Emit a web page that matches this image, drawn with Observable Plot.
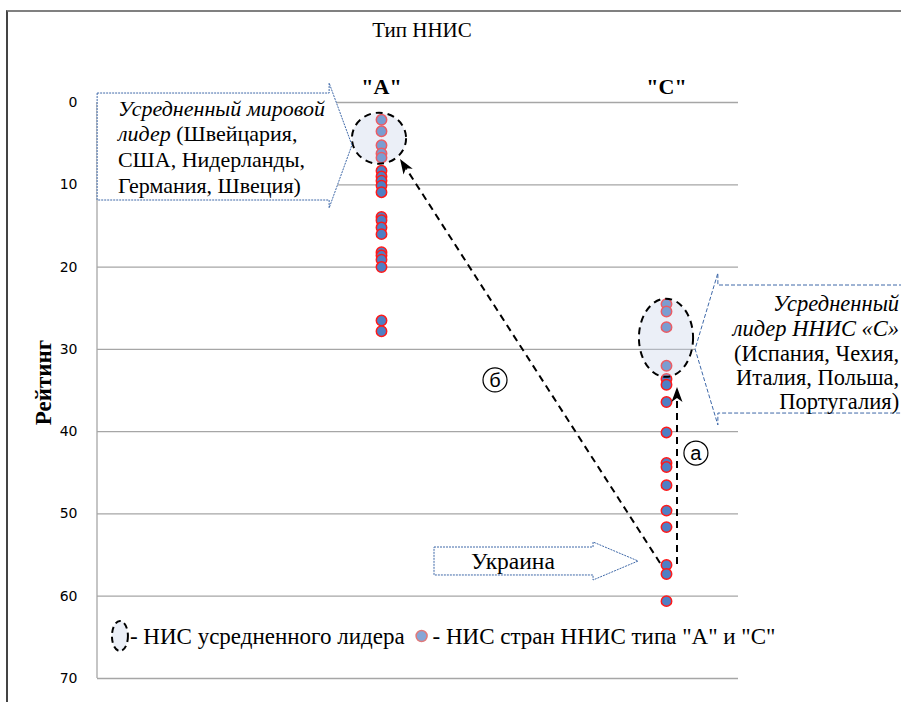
<!DOCTYPE html>
<html><head><meta charset="utf-8">
<script src="https://cdn.jsdelivr.net/npm/d3@7"></script>
<script src="https://cdn.jsdelivr.net/npm/@observablehq/plot@0.6"></script>
<style>
html,body{margin:0;padding:0;background:#fff;overflow:hidden;}
#wrap{position:relative;width:901px;height:702px;overflow:hidden;}
#border{position:absolute;left:6px;top:10px;width:1000px;height:1000px;border-left:2px solid #444;border-top:2px solid #808080;pointer-events:none;}
</style></head><body><div id="wrap"><div id="chart"></div><div id="border"></div></div>
<script>
// ---- data ----
const title = "Тип ННИС";
const yLabel = "Рейтинг";
const columns = ['"A"', '"C"'];
const yTicks = [0, 10, 20, 30, 40, 50, 60, 70];
const ratingsA = [2.1, 3.5, 5.2, 6.2, 6.7, 8.3, 9.0, 9.5, 10.1, 10.9, 13.9, 14.3, 15.2, 16.0, 18.2, 18.6, 19.1, 20.0, 26.5, 27.8];
const ratingsC = [24.5, 25.4, 27.3, 32.0, 33.6, 34.3, 36.4, 40.1, 43.8, 44.3, 46.5, 49.6, 51.6, 56.2, 57.3, 60.6];

// annotations (in data units: x = column index, y = rating)
const leaderEllipses = [
  {col: -0.007, from: 1.3, to: 7.5, half: 0.095},
  {col: 1.0, from: 23.9, to: 33.4, half: 0.095}
];
const calloutA = [[-0.996,-1.09],[-0.182,-1.09],[-0.182,-2.31],[-0.102,5.23],[-0.182,12.88],[-0.182,11.91],[-0.996,11.91]];
const calloutC = [[2.0,22.24],[1.182,22.24],[1.182,20.78],[1.102,30.02],[1.182,39.25],[1.182,37.8],[2.0,37.8]];
const calloutUkr = [[0.186,54.08],[0.744,54.08],[0.744,53.47],[0.902,55.78],[0.744,58.09],[0.744,57.48],[0.186,57.48]];
const calloutALines = [
  [["Усредненный мировой", true]],
  [["лидер", true], [" (Швейцария,", false]],
  [["США, Нидерланды,", false]],
  [["Германия, Швеция)", false]]
];
const calloutALinePos = {x: -0.923, y: [0.75, 3.85, 6.95, 10.1]};
const calloutCLines = [
  [["Усредненный", true]],
  [["лидер ННИС «С»", true]],
  [["(Испания, Чехия,", false]],
  [["Италия, Польша,", false]],
  [["Португалия)", false]]
];
const calloutCLinePos = {x: 1.818, y: [24.43, 27.47, 30.5, 33.42, 36.34]};
const ukrLabel = {text: "Украина", x: 0.463, y: 55.78};
const arrows = [
  {from: [0.979, 56.02], to: [0.0667, 6.93]},
  {from: [1.0386, 56.15], to: [1.0386, 34.64]}
];
const circledLabels = [
  {text: "б", x: 0.4, y: 33.78},
  {text: "а", x: 1.105, y: 42.66}
];
const legendItems = {y: 64.9, iconX: -0.916, text1X: -0.881,
  text1: "- НИС усредненного лидера", text2: '- НИС стран ННИС типа "A" и "C"'};

const points = [
  ...ratingsA.map(r => ({col: 0, rating: r})),
  ...ratingsC.map(r => ({col: 1, rating: r}))
];

const serif = "Liberation Serif, Times New Roman, serif";
const sans = "Liberation Sans, Arial, sans-serif";
const noteSize = 22.5;

function annotate(...args) {
  const s = args.find(a => a && typeof a.x === "function" && typeof a.y === "function");
  const dims = args.find(a => a && typeof a === "object" && "marginLeft" in a && "height" in a);
  const X = s.x, Y = s.y;
  const g = d3.create("svg:g").attr("text-anchor", "start");
  // left axis line
  g.append("line").attr("x1", dims.marginLeft).attr("x2", dims.marginLeft)
    .attr("y1", Y(0)).attr("y2", Y(70)).attr("stroke", "#a6a6a6").attr("stroke-width", 1.3);
  // ellipses
  for (const e of leaderEllipses) {
    const cy = (Y(e.from) + Y(e.to)) / 2, ry = (Y(e.to) - Y(e.from)) / 2;
    const cx = X(e.col), rx = X(e.col + e.half) - X(e.col);
    g.append("ellipse").attr("cx", cx).attr("cy", cy).attr("rx", rx).attr("ry", ry)
      .attr("fill", "rgb(200,212,234)").attr("fill-opacity", 0.36)
      .attr("stroke", "#000").attr("stroke-width", 2).attr("stroke-dasharray", "7,5");
  }
  const line = d3.line().x(d => X(d[0])).y(d => Y(d[1]));
  const drawCallout = (pts, dash) => g.append("path").attr("d", line(pts) + "Z")
    .attr("fill", "#fff").attr("stroke", "#3e68a8").attr("stroke-width", 1).attr("stroke-dasharray", dash);
  drawCallout(calloutA, "2,1");
  drawCallout(calloutC, "4,2");
  drawCallout(calloutUkr, "2,1");
  const drawLines = (lines, pos, anchor, size) => {
    lines.forEach((segs, i) => {
      const t = g.append("text").attr("x", X(pos.x)).attr("y", Y(pos.y[i])).attr("dy", "0.35em")
        .attr("text-anchor", anchor).attr("font-family", serif).attr("font-size", size).attr("fill", "#000");
      for (const [txt, it] of segs) t.append("tspan").attr("font-style", it ? "italic" : "normal").text(txt);
    });
  };
  drawLines(calloutALines, calloutALinePos, "start", 22);
  drawLines(calloutCLines, calloutCLinePos, "end", noteSize);
  g.append("text").attr("x", X(ukrLabel.x)).attr("y", Y(ukrLabel.y)).attr("dy", "0.35em")
    .attr("text-anchor", "middle").attr("font-family", serif).attr("font-size", 23.5).text(ukrLabel.text);
  // arrows
  for (const a of arrows) {
    const x0 = X(a.from[0]), y0 = Y(a.from[1]), x1 = X(a.to[0]), y1 = Y(a.to[1]);
    const len = Math.hypot(x1 - x0, y1 - y0), ux = (x1 - x0) / len, uy = (y1 - y0) / len;
    const nx = -uy, ny = ux, L = 15, w = 5.5, notch = 4;
    g.append("line").attr("x1", x0).attr("y1", y0)
      .attr("x2", x1 - (L - notch) * ux).attr("y2", y1 - (L - notch) * uy)
      .attr("stroke", "#000").attr("stroke-width", 2).attr("stroke-dasharray", "7,5");
    const head = [[x1, y1], [x1 - L * ux + w * nx, y1 - L * uy + w * ny],
      [x1 - (L - notch) * ux, y1 - (L - notch) * uy], [x1 - L * ux - w * nx, y1 - L * uy - w * ny]];
    g.append("path").attr("d", "M" + head.map(p => p.join(",")).join("L") + "Z").attr("fill", "#000");
  }
  for (const c of circledLabels) {
    g.append("circle").attr("cx", X(c.x)).attr("cy", Y(c.y)).attr("r", 12)
      .attr("fill", "#fff").attr("stroke", "#000").attr("stroke-width", 1.2);
    g.append("text").attr("x", X(c.x)).attr("y", Y(c.y)).attr("dy", "0.35em").attr("text-anchor", "middle")
      .attr("font-family", sans).attr("font-size", 20).text(c.text);
  }
  // legend
  const ly = Y(legendItems.y);
  g.append("ellipse").attr("cx", X(legendItems.iconX)).attr("cy", ly).attr("rx", 8).attr("ry", 15)
    .attr("fill", "rgb(200,212,234)").attr("fill-opacity", 0.36)
    .attr("stroke", "#000").attr("stroke-width", 2).attr("stroke-dasharray", "6,4");
  g.append("text").attr("class", "leg1").attr("x", X(legendItems.text1X)).attr("y", ly).attr("dy", "0.35em")
    .attr("text-anchor", "start").attr("font-family", serif).attr("font-size", 23).text(legendItems.text1);
  g.append("circle").attr("class", "legdot").attr("cx", X(0)).attr("cy", ly).attr("r", 5.5)
    .attr("fill", "#86a6d6").attr("stroke", "#e07a7a").attr("stroke-width", 1.5);
  g.append("text").attr("class", "leg2").attr("x", X(0)).attr("y", ly).attr("dy", "0.35em")
    .attr("text-anchor", "start").attr("font-family", serif).attr("font-size", 23).text(legendItems.text2);
  return g.node();
}

const chart = Plot.plot({
  width: 901, height: 702,
  marginLeft: 97, marginRight: 163, marginTop: 102, marginBottom: 24,
  style: {background: "transparent", overflow: "hidden"},
  x: {type: "linear", domain: [0, 1], range: [381, 666], axis: null},
  y: {domain: [0, 70], reverse: true, axis: null},
  marks: [
    Plot.ruleY(yTicks, {stroke: "#a6a6a6", strokeWidth: 1.3}),
    Plot.text(yTicks, {frameAnchor: "left", y: d => d, text: d => String(d), dx: -20, textAnchor: "end",
      lineAnchor: "middle", fontSize: 14, fontFamily: "DejaVu Sans, sans-serif", fill: "#000"}),
    Plot.text([yLabel], {frameAnchor: "left", dx: -54, dy: -8, rotate: -90, textAnchor: "middle",
      lineAnchor: "middle", fontSize: 23, fontWeight: "bold", fontFamily: serif, fill: "#000"}),
    Plot.text([title], {frameAnchor: "top", dx: 4, dy: -72, lineAnchor: "middle", fontSize: 21,
      fontFamily: serif, fill: "#000"}),
    Plot.text(columns, {x: (d, i) => i, frameAnchor: "top", dy: -16, lineAnchor: "middle", fontSize: 22,
      fontWeight: "bold", fontFamily: serif, fill: "#000"}),
    Plot.dot(points, {x: "col", y: "rating", r: 5.2, fill: "#4f7fc4", stroke: "#ff1a1a", strokeWidth: 1.5}),
    annotate
  ]
});
document.getElementById("chart").appendChild(chart);
// chain legend: dot and second text follow the first text
const t1 = chart.querySelector(".leg1");
const t2 = chart.querySelector(".leg2");
const dot = chart.querySelector(".legdot");
if (t1 && t2 && dot) {
  const bb = t1.getBBox();
  const end = bb.x + bb.width;
  dot.setAttribute("cx", end + 17);
  t2.setAttribute("x", end + 28);
}
</script>
</body></html>
